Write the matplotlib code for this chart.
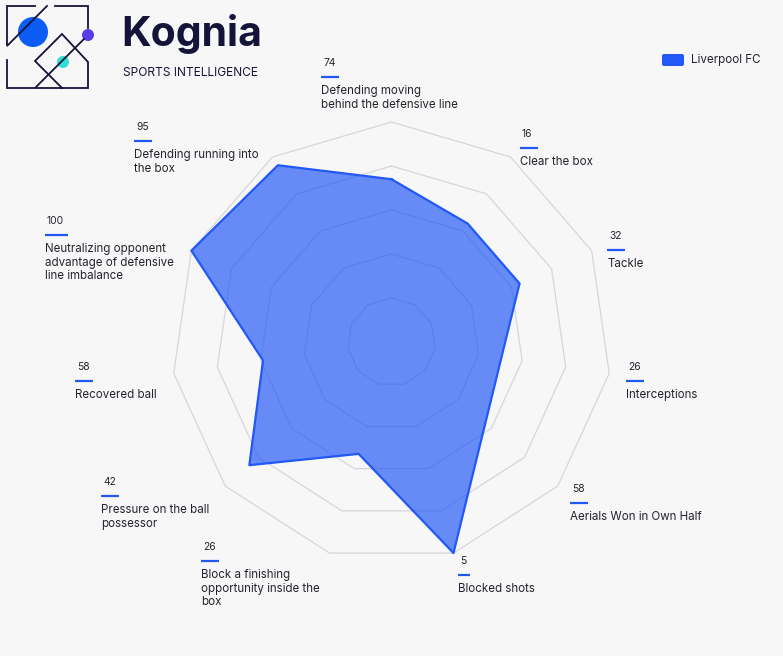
import numpy as np
import matplotlib
matplotlib.use("Agg")
import matplotlib.pyplot as plt
from matplotlib.patches import Circle, FancyBboxPatch

plt.rcParams['font.family'] = ['Inter', 'DejaVu Sans']

# metrics, clockwise from the top
metrics = ["Defending moving\nbehind the defensive line", "Clear the box", "Tackle",
           "Interceptions", "Aerials Won in Own Half", "Blocked shots",
           "Block a finishing\nopportunity inside the\nbox", "Pressure on the ball\npossessor",
           "Recovered ball", "Neutralizing opponent\nadvantage of defensive\nline imbalance",
           "Defending running into\nthe box"]
# numbers printed above each metric
scores = [74, 16, 32, 26, 58, 5, 26, 42, 58, 100, 95]
# plotted radius (0-1) read off the shape, None = not drawn
radar = [0.74, 0.64, 0.64, None, None, 1.0, 0.53, 0.855, 0.59, 1.0, 0.955]
team = "Liverpool FC"

# label anchor (left x, y of number) in pixels
label_pos = [(321, 63), (520, 134), (607, 236), (626, 367), (570, 489), (458, 561),
             (201, 547), (101, 482), (75, 367), (45, 221), (134, 127)]

bg = '#f7f7f7'
blue = '#2158f6'
dark = '#24242e'

W, H = 783, 656
fig = plt.figure(figsize=(W / 100, H / 100), dpi=100, facecolor=bg)

# radar
R = 1.05
ax = fig.add_axes([0.205, 0.1265, 0.590, 0.7043], projection='polar')
ax.set_theta_zero_location('N')
ax.set_theta_direction(-1)
ax.set_ylim(0, R)
ax.patch.set_alpha(0)
ax.spines['polar'].set_visible(False)
ax.grid(False)
ax.set_xticks([])
ax.set_yticks([])

n = len(metrics)
theta = np.linspace(0, 2 * np.pi, n, endpoint=False)
for r in [0.2, 0.4, 0.6, 0.8, 1.0]:
    ax.plot(np.append(theta, theta[0]), [r] * (n + 1), color='#d6d6dc', lw=0.9, zorder=1)

idx = [i for i, v in enumerate(radar) if v is not None]
t = np.array([theta[i] for i in idx] + [theta[idx[0]]])
v = np.array([radar[i] for i in idx] + [radar[idx[0]]])
ax.fill(t, v, color=blue, alpha=0.68, lw=0, zorder=2)
ax.plot(t, v, color=blue, lw=1.6, zorder=3, clip_on=False)

# overlay in pixel coordinates
ov = fig.add_axes([0, 0, 1, 1], zorder=-1)
ov.set_xlim(0, W)
ov.set_ylim(H, 0)
ov.axis('off')
ov.patch.set_alpha(0)

for (x, y), s, m in zip(label_pos, scores, metrics):
    ov.text(x + 2, y, str(s), fontsize=7.4, color=dark, va='center', ha='left')
    w = 12 + 5.5 * (len(str(s)) - 1)
    ov.plot([x, x + w], [y + 14, y + 14], color=blue, lw=1.6, solid_capstyle='butt')
    ov.text(x, y + 22, m, fontsize=8.3, color=dark, va='top', ha='left', linespacing=1.17)

# legend
ov.add_patch(FancyBboxPatch((662, 54), 22, 12, boxstyle='round,pad=0,rounding_size=2',
                            color=blue, lw=0))
ov.text(691, 60, team, fontsize=8.4, color=dark, va='center', ha='left')

# logo
ov.text(121, 34, "Kognia", fontsize=29.5, fontweight='bold', color='#14143a', va='center', ha='left')
ov.text(123, 73, "SPORTS INTELLIGENCE", fontsize=8.6, color='#14143a', va='center', ha='left')
lc = dict(color='#14143a', lw=1.3, solid_joinstyle='miter')
ov.add_patch(Circle((33, 32), 15, color='#0a5cf5', lw=0))
ov.add_patch(Circle((88, 35), 6, color='#5b3de8', lw=0))
ov.add_patch(Circle((63, 62), 6, color='#2de0d6', lw=0))
ov.plot([35, 7, 7, 47], [6, 6, 46, 6], **lc)
ov.plot([55, 88, 88], [6, 6, 28], **lc)
ov.plot([84, 48, 36], [39, 75, 87], **lc)
ov.plot([7, 7, 88, 88, 62, 35, 62], [60, 88, 88, 62, 34, 61, 88], **lc)

fig.savefig('out.png', dpi=100, facecolor=bg)
